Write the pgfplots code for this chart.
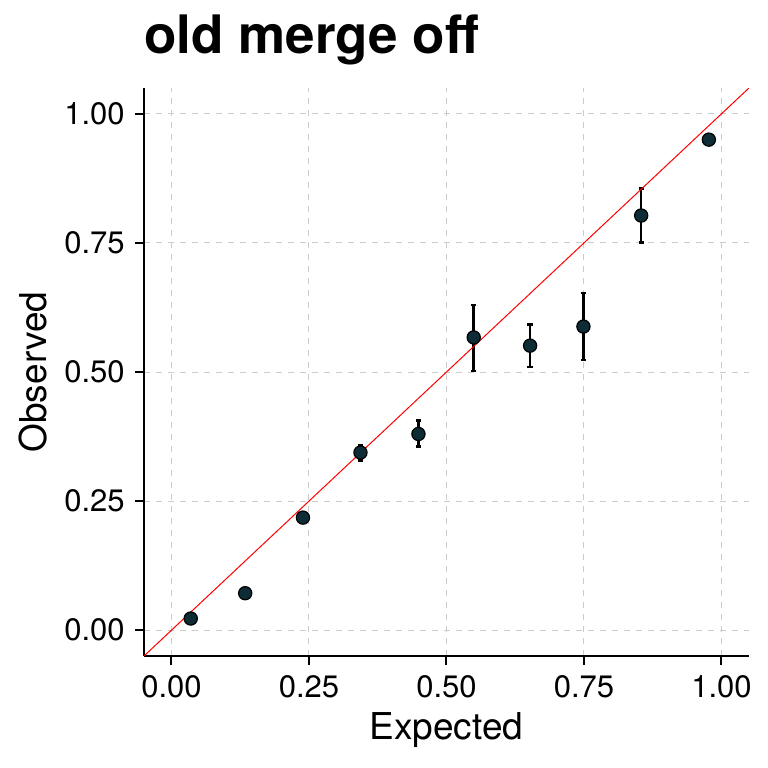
\documentclass[border=0pt]{standalone}
\usepackage{fontspec}
\setmainfont{TeX Gyre Heros}
\usepackage{pgfplots}
\usepackage{pgfplotstable}
\pgfplotsset{compat=1.18}
\definecolor{ptfill}{HTML}{0D2C36}
\definecolor{gridgray}{HTML}{CCCCCC}
\pgfplotstableread{
x y ep em
0.035 0.0226 0 0
0.134 0.0716 0 0
0.239 0.218 0 0
0.3436 0.344 0.014 0.015
0.449 0.380 0.026 0.024
0.5495 0.567 0.063 0.065
0.652 0.551 0.041 0.041
0.749 0.588 0.065 0.065
0.854 0.803 0.052 0.052
0.977 0.950 0 0
}\datatable
\begin{document}
\begin{tikzpicture}
\begin{axis}[
  at={(0,0)}, anchor=south west,
  scale only axis,
  width=302.5pt, height=284pt,
  xmin=-0.05, xmax=1.05, ymin=-0.05, ymax=1.05,
  axis x line*=bottom, axis y line*=left,
  axis line style={-, line width=1pt, black},
  xtick={0,0.25,0.5,0.75,1}, ytick={0,0.25,0.5,0.75,1},
  xticklabels={0.00,0.25,0.50,0.75,1.00},
  yticklabels={0.00,0.25,0.50,0.75,1.00},
  tick align=outside,
  major tick length=4.5pt,
  tick style={line width=1pt, black},
  grid=major,
  major grid style={gridgray, line width=0.5pt, dash pattern=on 3pt off 3pt},
  /pgf/number format/assume math mode=true,
  tick label style={font=\fontsize{15.5}{18}\selectfont, inner sep=0pt},
  xticklabel style={anchor=north, yshift=-5pt},
  yticklabel style={anchor=east, xshift=-5pt},
  xlabel={Expected}, ylabel={Observed},
  label style={font=\fontsize{18.5}{22}\selectfont, inner sep=0pt},
  xlabel style={at={(axis description cs:0.5,-0.1468)}, anchor=base},
  ylabel style={at={(axis description cs:-0.161,0.5)}, anchor=base},
  title={old merge off},
  title style={at={(axis description cs:0,1.040)}, anchor=base west, inner sep=0pt, font=\bfseries\fontsize{26.5}{30}\selectfont},
]
\addplot[draw=none, no marks, forget plot,
  error bars/.cd, y dir=both, y explicit,
  error bar style={line width=1.3pt, black},
  error mark options={rotate=90, line width=1.3pt, mark size=1.3pt, black}]
  table[x=x, y=y, y error plus=ep, y error minus=em] {\datatable};
\addplot[only marks, mark=*, mark size=3.3pt, mark options={fill=ptfill, draw=black, line width=0.6pt}]
  table[x=x, y=y] {\datatable};
\addplot[red, line width=0.5pt, no marks] coordinates {(-0.05,-0.05) (1.05,1.05)};
\end{axis}
\pgfresetboundingbox
\useasboundingbox (-72pt,-56pt) rectangle (312pt,328pt);
\end{tikzpicture}
\end{document}
